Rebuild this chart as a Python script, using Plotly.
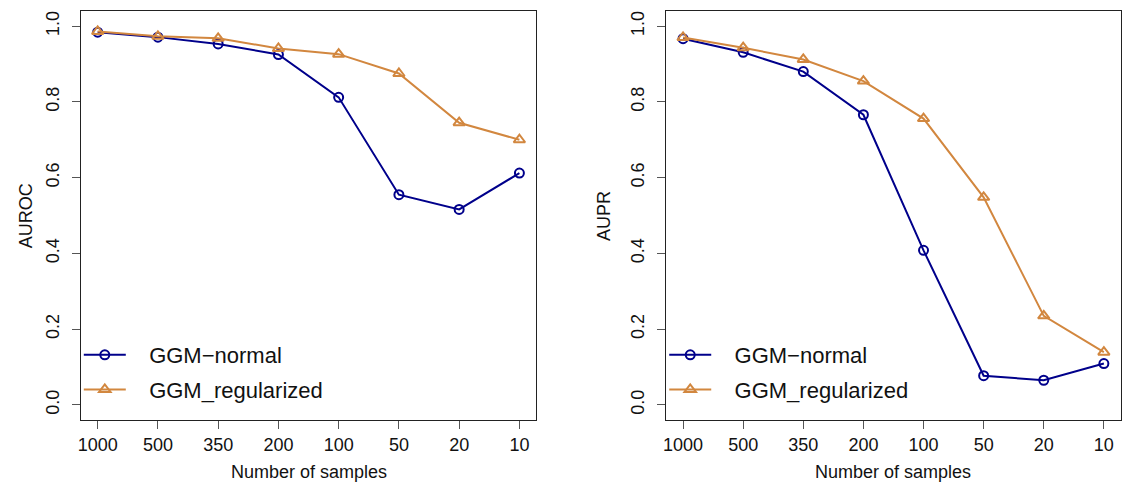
import plotly.graph_objects as go

samples = ["1000", "500", "350", "200", "100", "50", "20", "10"]
auroc_normal = [0.984, 0.971, 0.953, 0.925, 0.812, 0.555, 0.516, 0.612]
auroc_regularized = [0.986, 0.973, 0.968, 0.941, 0.926, 0.875, 0.745, 0.700]
aupr_normal = [0.967, 0.931, 0.880, 0.766, 0.408, 0.077, 0.065, 0.109]
aupr_regularized = [0.970, 0.943, 0.912, 0.855, 0.756, 0.548, 0.235, 0.139]
yticks = [0.0, 0.2, 0.4, 0.6, 0.8, 1.0]
ytick_labels = ["0.0", "0.2", "0.4", "0.6", "0.8", "1.0"]
series_names = ["GGM\u2212normal", "GGM_regularized"]

BLUE = "#00008B"
ORANGE = "#D2873F"
FONT = "Liberation Sans, Arial, sans-serif"
W, H = 1122, 487
TOP, BOT = 11, 420  # plot area pixel rows
PAD = "\u00a0\u00a0\u00a0"  # gap between legend key and text


def py(pix):
    return (BOT - pix) / (BOT - TOP)


fig = go.Figure()


def add_pair(xa, ya, normal, reg, legend):
    fig.add_trace(go.Scatter(
        x=samples, y=normal, xaxis=xa, yaxis=ya, mode="lines+markers",
        name=PAD + series_names[0], legend=legend, legendgroup=legend + "a",
        line=dict(color=BLUE, width=2),
        marker=dict(symbol="circle-open", size=9, color=BLUE, line=dict(width=2, color=BLUE)),
    ))
    fig.add_trace(go.Scatter(
        x=samples, y=reg, xaxis=xa, yaxis=ya, mode="lines+markers",
        name=PAD + series_names[1], legend=legend, legendgroup=legend + "b",
        line=dict(color=ORANGE, width=2),
        marker=dict(symbol="triangle-up-open", size=10, color=ORANGE, line=dict(width=2, color=ORANGE)),
    ))


add_pair("x", "y", auroc_normal, auroc_regularized, "legend")
add_pair("x2", "y2", aupr_normal, aupr_regularized, "legend2")

axis_common = dict(
    showline=True, linecolor="#222", linewidth=1.2, mirror=True,
    showgrid=False, zeroline=False, ticks="outside", ticklen=8,
    tickcolor="#555", tickwidth=1,
    tickfont=dict(family=FONT, size=18, color="#111"),
)
xcommon = dict(axis_common, type="category", range=[-0.28, 7.28])
ycommon = dict(axis_common, range=[-0.04, 1.04], tickvals=yticks, ticktext=ytick_labels,
               tickangle=-90, ticklabelstandoff=6)

d1 = [78 / W, 534.7 / W]
d2 = [665 / W, 1120.7 / W]

legend_common = dict(
    font=dict(family=FONT, size=22, color="#111"),
    bgcolor="rgba(0,0,0,0)", borderwidth=0,
    xanchor="left", yanchor="top", itemwidth=42, tracegroupgap=3,
)

title_font = dict(family=FONT, size=18, color="#111")


def ann(text, xpix, ypix, angle=0):
    return dict(text=text, xref="paper", yref="paper", x=xpix / W, y=py(ypix),
                xanchor="center", yanchor="middle", showarrow=False,
                textangle=angle, font=title_font)


fig.update_layout(
    width=W, height=H,
    margin=dict(l=0, r=0, t=TOP, b=H - BOT),
    paper_bgcolor="white", plot_bgcolor="white",
    xaxis=dict(xcommon, domain=d1, anchor="y"),
    yaxis=dict(ycommon, domain=[0, 1], anchor="x"),
    xaxis2=dict(xcommon, domain=d2, anchor="y2"),
    yaxis2=dict(ycommon, domain=[0, 1], anchor="x2"),
    legend=dict(legend_common, x=76 / W, y=py(334)),
    legend2=dict(legend_common, x=(76 + 587) / W, y=py(334)),
    showlegend=True,
    annotations=[
        ann("AUROC", 22.7, 215.5, -90),
        ann("AUPR", 560 + 42, 215.5, -90),
        ann("Number of samples", (78 + 534.7) / 2, 472),
        ann("Number of samples", (665 + 1120.7) / 2, 472),
    ],
)

fig.write_html(
    "out.html",
    config={"displayModeBar": False},
    post_script="document.body.style.margin='0';document.body.style.padding='0';",
)
